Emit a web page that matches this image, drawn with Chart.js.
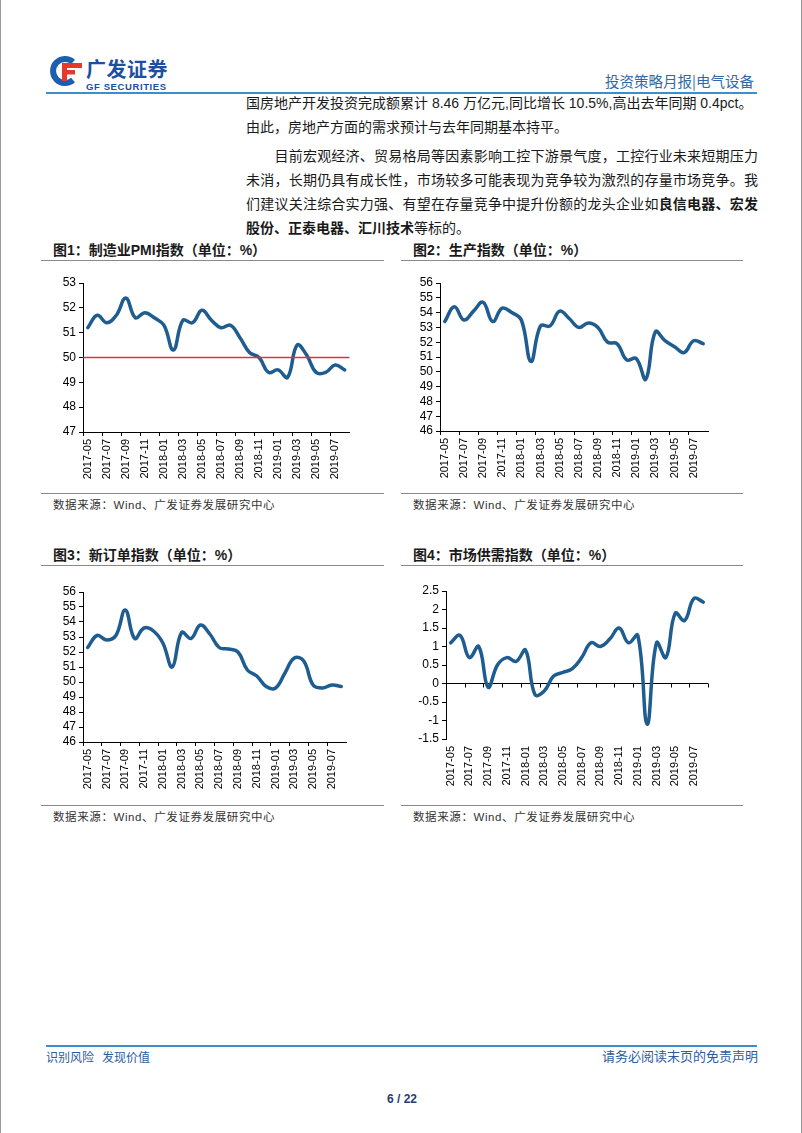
<!DOCTYPE html>
<html>
<head>
<meta charset="utf-8">
<script src="https://cdn.jsdelivr.net/npm/chart.js@4"></script>
<style>
body{margin:0;background:#fff;}
#page{position:relative;width:800px;height:1133px;overflow:hidden;border-left:1px solid #999;border-right:1px solid #999;
  font-family:"Liberation Sans","Noto Sans CJK SC",sans-serif;color:#1a1a1a;}
.abs{position:absolute;}
.hline{position:absolute;height:0;border-top:1px solid #8a8a8a;}
.body{position:absolute;left:245px;width:512px;height:20px;line-height:20px;font-size:14px;white-space:nowrap;
  font-family:"Liberation Sans","Noto Sans CJK SC",sans-serif;color:#1a1a1a;}
.just{text-align:justify;text-align-last:justify;}
.ttl{position:absolute;font-size:14px;font-weight:bold;font-family:"Liberation Sans","Noto Sans CJK SC",sans-serif;line-height:18px;color:#1a1a1a;}
.src{position:absolute;font-size:11.5px;line-height:16px;color:#333;letter-spacing:0.6px;font-family:"Liberation Sans","Noto Sans CJK SC",sans-serif;}
.box{position:absolute;}
</style>
</head>
<body>
<div id="page">
  <!-- header -->
  <svg class="abs" style="left:45px;top:55px" width="38" height="32" viewBox="0 0 38 32">
    <path d="M27 7 A12 12 0 1 0 27 25" stroke="#1b5fae" stroke-width="6" fill="none"/>
    <rect x="16" y="8" width="20" height="5" fill="#e5392d"/>
    <rect x="16" y="15" width="13" height="4.5" fill="#e5392d"/>
    <rect x="16" y="8" width="5" height="18" fill="#e5392d"/>
  </svg>
  <div class="abs" style="left:85px;top:57px;font-size:20px;font-weight:bold;color:#1c4fa0;letter-spacing:0.5px;font-family:'Noto Sans CJK SC';line-height:24px">广发证券</div>
  <div class="abs" style="left:85px;top:81px;font-size:9.5px;font-weight:bold;color:#1c4fa0;letter-spacing:0.6px;line-height:11px">GF SECURITIES</div>
  <div class="abs" style="left:604px;top:72px;font-size:14.5px;color:#2f6aa6;line-height:18px;font-family:'Noto Sans CJK SC'">投资策略月报|电气设备</div>
  <div class="abs" style="left:45px;top:92px;width:711px;height:2px;background:#3a8fd0"></div>

  <!-- body text -->
  <div class="body" style="top:93px">国房地产开发投资完成额累计 8.46 万亿元,同比增长 10.5%,高出去年同期 0.4pct。</div>
  <div class="body" style="top:117px">由此，房地产方面的需求预计与去年同期基本持平。</div>
  <div class="body just" style="top:146px">　　目前宏观经济、贸易格局等因素影响工控下游景气度，工控行业未来短期压力</div>
  <div class="body just" style="top:170px">未消，长期仍具有成长性，市场较多可能表现为竞争较为激烈的存量市场竞争。我</div>
  <div class="body just" style="top:194px">们建议关注综合实力强、有望在存量竞争中提升份额的龙头企业如<b>良信电器、宏发</b></div>
  <div class="body" style="top:218px"><b>股份、正泰电器、汇川技术</b>等标的。</div>

  <!-- chart 1 -->
  <div class="ttl" style="left:52px;top:241px">图1：制造业PMI指数（单位：%）</div>
  <div class="hline" style="left:40px;top:260px;width:343px"></div>
  <div class="box" style="left:40px;top:270px;width:320px;height:215px"><canvas id="c1"></canvas></div>
  <div class="hline" style="left:40px;top:493px;width:343px"></div>
  <div class="src" style="left:52px;top:497px">数据来源：Wind、广发证券发展研究中心</div>

  <!-- chart 2 -->
  <div class="ttl" style="left:412px;top:241px">图2：生产指数（单位：%）</div>
  <div class="hline" style="left:400px;top:260px;width:342px"></div>
  <div class="box" style="left:400px;top:270px;width:320px;height:214px"><canvas id="c2"></canvas></div>
  <div class="hline" style="left:400px;top:493px;width:342px"></div>
  <div class="src" style="left:412px;top:497px">数据来源：Wind、广发证券发展研究中心</div>

  <!-- chart 3 -->
  <div class="ttl" style="left:52px;top:546px">图3：新订单指数（单位：%）</div>
  <div class="hline" style="left:40px;top:565px;width:343px"></div>
  <div class="box" style="left:40px;top:580px;width:320px;height:215px"><canvas id="c3"></canvas></div>
  <div class="hline" style="left:40px;top:805px;width:343px"></div>
  <div class="src" style="left:52px;top:809px">数据来源：Wind、广发证券发展研究中心</div>

  <!-- chart 4 -->
  <div class="ttl" style="left:412px;top:546px">图4：市场供需指数（单位：%）</div>
  <div class="hline" style="left:400px;top:565px;width:342px"></div>
  <div class="box" style="left:400px;top:580px;width:320px;height:212px"><canvas id="c4"></canvas></div>
  <div class="hline" style="left:400px;top:805px;width:342px"></div>
  <div class="src" style="left:412px;top:809px">数据来源：Wind、广发证券发展研究中心</div>

  <!-- footer -->
  <div class="abs" style="left:45px;top:1045px;width:711px;height:2px;background:#3a8fd0"></div>
  <div class="abs" style="left:45px;top:1049px;font-size:12px;color:#2a5da0;line-height:16px;font-family:'Noto Sans CJK SC'">识别风险&nbsp;&nbsp;&nbsp;发现价值</div>
  <div class="abs" style="left:600px;top:1048px;width:157px;text-align:right;font-size:13px;color:#2a5da0;line-height:16px;font-family:'Noto Sans CJK SC'">请务必阅读末页的免责声明</div>
  <div class="abs" style="left:0;top:1091px;width:802px;text-align:center;font-size:12px;font-weight:bold;color:#1f3f73;line-height:16px">6 / 22</div>
</div>

<script>
const months = ['2017-05','2017-06','2017-07','2017-08','2017-09','2017-10','2017-11','2017-12',
  '2018-01','2018-02','2018-03','2018-04','2018-05','2018-06','2018-07','2018-08','2018-09','2018-10','2018-11','2018-12',
  '2019-01','2019-02','2019-03','2019-04','2019-05','2019-06','2019-07','2019-08'];

// 制造业PMI
const pmi = [51.2,51.7,51.4,51.7,52.4,51.6,51.8,51.6,
  51.3,50.3,51.5,51.4,51.9,51.5,51.2,51.3,50.8,50.2,50.0,49.4,
  49.5,49.2,50.5,50.1,49.4,49.4,49.7,49.5];
const pmiRefLevel = 50;

// 生产指数
const production = [53.4,54.4,53.5,54.1,54.7,53.4,54.3,54.0,
  53.5,50.7,53.1,53.1,54.1,53.6,53.0,53.3,53.0,52.0,51.9,50.8,
  50.9,49.5,52.7,52.1,51.7,51.3,52.1,51.9];

// 新订单指数
const newOrders = [52.3,53.1,52.8,53.1,54.8,52.9,53.6,53.4,
  52.6,51.0,53.3,52.9,53.8,53.2,52.3,52.2,52.0,50.8,50.4,49.7,
  49.6,50.6,51.6,51.4,49.8,49.6,49.8,49.7];

// 市场供需指数
const supplyDemand = [1.1,1.3,0.7,1.0,-0.1,0.5,0.7,0.6,
  0.9,-0.3,-0.2,0.2,0.3,0.4,0.7,1.1,1.0,1.2,1.5,1.1,
  1.3,-1.1,1.1,0.7,1.9,1.7,2.3,2.2];

const LINE_BLUE = '#1f5d91';
const CLEAR = 'rgba(0,0,0,0)';

// 红色 50 荣枯线
const refLine = {
  id: 'refLine',
  afterDatasetsDraw(chart, args, opts){
    if (opts.value === undefined || opts.value === null) return;
    const {ctx, chartArea, scales:{y}} = chart;
    const py = y.getPixelForValue(opts.value);
    ctx.save();
    ctx.strokeStyle = '#e8302c';
    ctx.lineWidth = 1.4;
    ctx.beginPath();
    ctx.moveTo(chartArea.left, py);
    ctx.lineTo(chartArea.right, py);
    ctx.stroke();
    ctx.restore();
  }
};

// 零轴上的刻度
const zeroTicks = {
  id: 'zeroTicks',
  beforeDatasetsDraw(chart, args, opts){
    if (!opts.on) return;
    const {ctx, scales:{x,y}} = chart;
    const y0 = y.getPixelForValue(0);
    const half = (x.getPixelForValue(1) - x.getPixelForValue(0)) / 2;
    ctx.save();
    ctx.strokeStyle = '#000';
    ctx.lineWidth = 1;
    ctx.beginPath();
    for (let i = 0; i <= months.length; i += 2){
      const px = Math.round(x.getPixelForValue(i) - half) + 0.5;
      ctx.moveTo(px, y0);
      ctx.lineTo(px, y0 + 4);
    }
    ctx.stroke();
    ctx.restore();
  }
};

function makeChart(id, data, o){
  const zeroAxis = !!o.zeroAxis;
  return new Chart(document.getElementById(id), {
    type: 'line',
    data: {
      labels: months,
      datasets: [{ data, borderColor: LINE_BLUE, borderWidth: 3.5, pointRadius: 0,
        tension: 0.42, fill: false, borderCapStyle: 'round', borderJoinStyle: 'round', clip: false }]
    },
    options: {
      responsive: true,
      maintainAspectRatio: false,
      animation: false,
      layout: { padding: { top: o.padTop, right: o.padRight, left: 0, bottom: 0 } },
      plugins: {
        legend: { display: false },
        tooltip: { enabled: false },
        refLine: { value: o.ref },
        zeroTicks: { on: zeroAxis }
      },
      scales: {
        x: {
          offset: true,
          border: { display: !zeroAxis, color: '#000', width: 1 },
          grid: { drawOnChartArea: false, offset: true, tickLength: 4,
            color: c => (!zeroAxis && c.index % 2 === 0) ? '#000' : CLEAR },
          ticks: { autoSkip: false, minRotation: 90, maxRotation: 90, padding: 3, color: '#000',
            font: { family: 'Liberation Sans', size: 11 },
            callback: (v, i) => i % 2 === 0 ? months[i] : '' },
          afterFit: s => { s.height = 53; }
        },
        y: {
          min: o.min, max: o.max,
          border: { color: '#000', width: 1 },
          grid: { drawOnChartArea: zeroAxis, tickLength: 4, tickColor: '#000',
            color: c => (zeroAxis && c.tick && c.tick.value === 0) ? '#000' : CLEAR },
          ticks: { stepSize: o.step, autoSkip: false, padding: 3, color: '#000',
            font: { family: 'Liberation Sans', size: 12 },
            callback: v => String(+Number(v).toFixed(1)) },
          afterFit: s => { s.width = o.yWidth; }
        }
      }
    },
    plugins: [refLine, zeroTicks]
  });
}

makeChart('c1', pmi,          { min: 47, max: 53, step: 1, yWidth: 42, padTop: 13, padRight: 8, ref: pmiRefLevel });
makeChart('c2', production,   { min: 46, max: 56, step: 1, yWidth: 39, padTop: 13, padRight: 13 });
makeChart('c3', newOrders,    { min: 46, max: 56, step: 1, yWidth: 42, padTop: 12, padRight: 15 });
makeChart('c4', supplyDemand, { min: -1.5, max: 2.5, step: 0.5, yWidth: 45, padTop: 11, padRight: 13, zeroAxis: true });
</script>
</body>
</html>
